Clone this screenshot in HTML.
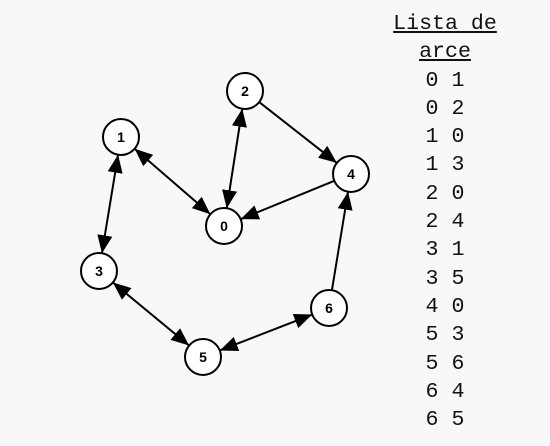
<!DOCTYPE html>
<html><head><meta charset="utf-8"><style>
html,body{margin:0;padding:0;background:#f8f8f8;width:550px;height:446px;overflow:hidden}
.l{position:absolute;left:345px;width:200px;text-align:center;font-family:"Liberation Mono",monospace;font-size:21.6px;color:#111;line-height:28.3px}
</style></head><body>
<svg id="s" width="550" height="446" style="position:absolute;left:0;top:0">
<defs>
<marker id="b" viewBox="0 0 10 10" refX="10" refY="5" markerWidth="18" markerHeight="18" markerUnits="userSpaceOnUse" orient="auto-start-reverse"><path d="M0,0.8 L10,5 L0,9.2 z" fill="#000"/></marker></defs>
<g id="e"></g><g id="n"></g>
</svg>
<div class="l" style="top:10px"><u>Lista de</u><br><u>arce</u><br>0 1<br>0 2<br>1 0<br>1 3<br>2 0<br>2 4<br>3 1<br>3 5<br>4 0<br>5 3<br>5 6<br>6 4<br>6 5</div>
<script>
var P={0:[224,226],1:[121,137],2:[245,91],3:[99,271],4:[351,174],5:[203,357],6:[329,308]};
var E=[[0,1,2],[0,2,2],[1,3,2],[2,4,1],[4,0,1],[3,5,2],[5,6,2],[6,4,1]];
var r=18,ns="http://www.w3.org/2000/svg",eg=document.getElementById('e'),ng=document.getElementById('n');
E.forEach(function(t){var a=P[t[0]],b=P[t[1]],dx=b[0]-a[0],dy=b[1]-a[1],d=Math.hypot(dx,dy),ux=dx/d,uy=dy/d;
var l=document.createElementNS(ns,'line');l.setAttribute('x1',a[0]+ux*r);l.setAttribute('y1',a[1]+uy*r);l.setAttribute('x2',b[0]-ux*r);l.setAttribute('y2',b[1]-uy*r);
l.setAttribute('stroke','#000');l.setAttribute('stroke-width','2');l.setAttribute('marker-end','url(#b)');if(t[2]==2)l.setAttribute('marker-start','url(#b)');eg.appendChild(l);});
for(var k in P){var c=document.createElementNS(ns,'circle');c.setAttribute('cx',P[k][0]);c.setAttribute('cy',P[k][1]);c.setAttribute('r',r);c.setAttribute('fill','#fff');c.setAttribute('stroke','#000');c.setAttribute('stroke-width','2');ng.appendChild(c);
var x=document.createElementNS(ns,'text');x.setAttribute('x',P[k][0]);x.setAttribute('y',P[k][1]+5);x.setAttribute('text-anchor','middle');x.setAttribute('font-family','Liberation Sans, sans-serif');x.setAttribute('font-weight','bold');x.setAttribute('font-size','14');x.textContent=k;ng.appendChild(x);}
</script>
</body></html>
